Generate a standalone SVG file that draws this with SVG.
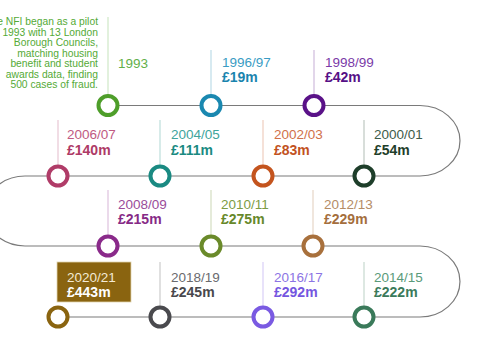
<svg xmlns="http://www.w3.org/2000/svg" width="485" height="360" viewBox="0 0 485 360">
<style>
text{font-family:"Liberation Sans",Arial,sans-serif}
.yr{font-size:13.5px}
.amt{font-size:14px;font-weight:bold}
.desc{font-size:10.3px;fill:#54aa36;text-anchor:end}
.stem{stroke-width:1;stroke-opacity:0.35}
.dot{fill:#fff;stroke-width:4}
.track{fill:none;stroke:#7a7a7a;stroke-width:1.2}
</style>
<rect width="485" height="360" fill="#fff"/>
<g id="connectors">
<path class="track" d="M108,105.5 H420 A40,35.25 0 0 1 420,176 H25 A40,35 0 0 0 25,246 H420 A40,35.5 0 0 1 420,317 H58"/>
</g>
<g id="n1993">
<line class="stem" x1="108" y1="17" x2="108" y2="105" stroke="#5aac3a"/>
<text class="desc" x="98" y="25">The NFI began as a pilot</text>
<text class="desc" x="98" y="35.5">in 1993 with 13 London</text>
<text class="desc" x="98" y="46">Borough Councils,</text>
<text class="desc" x="98" y="56.5">matching housing</text>
<text class="desc" x="98" y="67">benefit and student</text>
<text class="desc" x="98" y="77.5">awards data, finding</text>
<text class="desc" x="98" y="88">500 cases of fraud.</text>
<text class="yr" x="118" y="68" fill="#62b04a">1993</text>
<circle class="dot" cx="108" cy="105.5" r="9.5" stroke="#4e9e2a"/>
</g>
<g id="n1996">
<line class="stem" x1="211" y1="50" x2="211" y2="105" stroke="#1a88b0"/>
<text class="yr" x="222" y="67" fill="#3a9cc4">1996/97</text>
<text class="amt" x="222" y="82" fill="#1a84ae">£19m</text>
<circle class="dot" cx="211" cy="105.5" r="9.5" stroke="#1a88b0"/>
</g>
<g id="n1998">
<line class="stem" x1="314" y1="50" x2="314" y2="105" stroke="#5a1288"/>
<text class="yr" x="325" y="67" fill="#7a3aa8">1998/99</text>
<text class="amt" x="325" y="82" fill="#561086">£42m</text>
<circle class="dot" cx="314" cy="105.5" r="9.5" stroke="#5a1288"/>
</g>
<g id="n2000">
<line class="stem" x1="364" y1="120" x2="364" y2="176" stroke="#1e3e2a"/>
<text class="yr" x="374" y="139" fill="#3e5c4a">2000/01</text>
<text class="amt" x="374" y="155" fill="#1e3e2a">£54m</text>
<circle class="dot" cx="364" cy="176" r="9.5" stroke="#1e3e2a"/>
</g>
<g id="n2002">
<line class="stem" x1="263" y1="120" x2="263" y2="176" stroke="#c4541e"/>
<text class="yr" x="274" y="139" fill="#d0704a">2002/03</text>
<text class="amt" x="274" y="155" fill="#c2521e">£83m</text>
<circle class="dot" cx="263" cy="176" r="9.5" stroke="#c4541e"/>
</g>
<g id="n2004">
<line class="stem" x1="160" y1="120" x2="160" y2="176" stroke="#1a8a82"/>
<text class="yr" x="171" y="139" fill="#40a49c">2004/05</text>
<text class="amt" x="171" y="155" fill="#1a8a82">£111m</text>
<circle class="dot" cx="160" cy="176" r="9.5" stroke="#1a8a82"/>
</g>
<g id="n2006">
<line class="stem" x1="58" y1="120" x2="58" y2="176" stroke="#b03c68"/>
<text class="yr" x="67" y="139" fill="#c05a82">2006/07</text>
<text class="amt" x="67" y="155" fill="#ae3a66">£140m</text>
<circle class="dot" cx="58" cy="176" r="9.5" stroke="#b03c68"/>
</g>
<g id="n2008">
<line class="stem" x1="108" y1="190" x2="108" y2="246" stroke="#8a2a8a"/>
<text class="yr" x="118" y="209" fill="#9a4c9a">2008/09</text>
<text class="amt" x="118" y="224" fill="#862a86">£215m</text>
<circle class="dot" cx="108" cy="246" r="9.5" stroke="#8a2a8a"/>
</g>
<g id="n2010">
<line class="stem" x1="211" y1="190" x2="211" y2="246" stroke="#6a8a2a"/>
<text class="yr" x="221" y="209" fill="#7c9c44">2010/11</text>
<text class="amt" x="221" y="224" fill="#66882a">£275m</text>
<circle class="dot" cx="211" cy="246" r="9.5" stroke="#6a8a2a"/>
</g>
<g id="n2012">
<line class="stem" x1="313" y1="190" x2="313" y2="246" stroke="#a8703c"/>
<text class="yr" x="324" y="209" fill="#b48c66">2012/13</text>
<text class="amt" x="324" y="224" fill="#a46e3c">£229m</text>
<circle class="dot" cx="313" cy="246" r="9.5" stroke="#a8703c"/>
</g>
<g id="n2014">
<line class="stem" x1="364" y1="262" x2="364" y2="317" stroke="#3a7a5a"/>
<text class="yr" x="374" y="282" fill="#5a9a7a">2014/15</text>
<text class="amt" x="374" y="297" fill="#3a7a5a">£222m</text>
<circle class="dot" cx="364" cy="317" r="9.5" stroke="#3a7a5a"/>
</g>
<g id="n2016">
<line class="stem" x1="263" y1="262" x2="263" y2="317" stroke="#7a5ae2"/>
<text class="yr" x="274" y="282" fill="#8c74e4">2016/17</text>
<text class="amt" x="274" y="297" fill="#7456e0">£292m</text>
<circle class="dot" cx="263" cy="317" r="9.5" stroke="#7a5ae2"/>
</g>
<g id="n2018">
<line class="stem" x1="160" y1="262" x2="160" y2="317" stroke="#4a4a4e"/>
<text class="yr" x="171" y="282" fill="#6a6a6e">2018/19</text>
<text class="amt" x="171" y="297" fill="#48484c">£245m</text>
<circle class="dot" cx="160" cy="317" r="9.5" stroke="#4a4a4e"/>
</g>
<g id="n2020">
<rect x="57" y="262" width="74" height="40" fill="#8a6410" stroke="#e0d4b0" stroke-width="0.8"/>
<text class="yr" x="67" y="282" fill="#f4ead4">2020/21</text>
<text class="amt" x="67" y="297" fill="#ffffff">£443m</text>
<circle class="dot" cx="58" cy="317" r="9.5" stroke="#8a6410"/>
</g>
</svg>
